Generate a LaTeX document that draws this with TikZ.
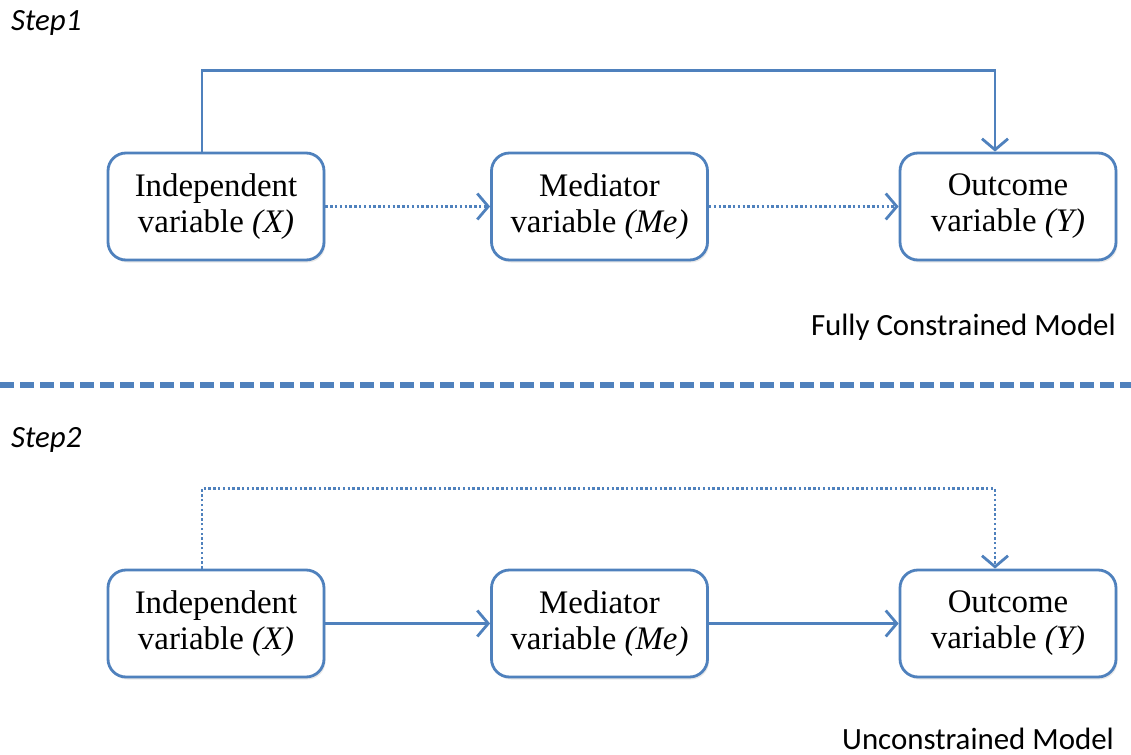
\documentclass[tikz,border=0pt]{standalone}
\usepackage{fontspec}
\setmainfont{Liberation Serif}
\newfontfamily\labelfont{Carlito}
\usetikzlibrary{arrows.meta,shadows}
\definecolor{accent}{RGB}{79,129,189}
\begin{document}
\begin{tikzpicture}[x=1bp,y=-1bp,
  var/.style={draw=accent, line width=2.8bp, rounded corners=18bp, fill=white,
    minimum width=216bp, minimum height=107bp, align=center, inner sep=0pt,
    font=\fontsize{33}{36}\selectfont,
    drop shadow={opacity=0.18, shadow xshift=1.5bp, shadow yshift=-2.5bp}},
  link/.style={draw=accent, line width=2.8bp, -{Straight Barb[length=11bp,width=26bp,line width=2.8bp]}},
  dotlink/.style={link, dash pattern=on 2.4bp off 2.4bp},
  steplabel/.style={anchor=base west, inner sep=0pt, font=\labelfont\itshape\fontsize{31}{34}\selectfont},
  modellabel/.style={anchor=base east, inner sep=0pt, font=\labelfont\fontsize{31}{34}\selectfont},
  divider/.style={draw=accent, line width=6bp, dash pattern=on 14bp off 6bp}]
\useasboundingbox (0,0) rectangle (1131,755);

% ---- Step 1: fully constrained model ----
\node[steplabel] (s1) at (11,31) {Step1};
\node[var] (x1) at (216,206.5) {Independent\\variable \textit{(X)}};
\node[var] (m1) at (599.5,206.5) {Mediator\\variable \textit{(Me)}};
\node[var] (y1) at (1008,206.5) {Outcome\\variable \textit{(Y)}};
\draw[dotlink] (x1) -- (m1);
\draw[dotlink] (m1) -- (y1);
\draw[link] ([xshift=-14bp]x1.north) -- ++(0,-81) -| ([xshift=-13bp]y1.north);
\node[modellabel] (c1) at (1116,335) {Fully Constrained Model};

% ---- separator ----
\coordinate (dl) at (0,385);
\coordinate (dr) at (1131,385);
\draw[divider] (dl) -- (dr);

% ---- Step 2: unconstrained model ----
\node[steplabel] (s2) at (11,447) {Step2};
\node[var] (x2) at (216,623.5) {Independent\\variable \textit{(X)}};
\node[var] (m2) at (599.5,623.5) {Mediator\\variable \textit{(Me)}};
\node[var] (y2) at (1008,623.5) {Outcome\\variable \textit{(Y)}};
\draw[link] (x2) -- (m2);
\draw[link] (m2) -- (y2);
\draw[dotlink] ([xshift=-14bp]x2.north) -- ++(0,-80) -| ([xshift=-13bp]y2.north);
\node[modellabel] (c2) at (1114,749) {Unconstrained Model};
\end{tikzpicture}
\end{document}
